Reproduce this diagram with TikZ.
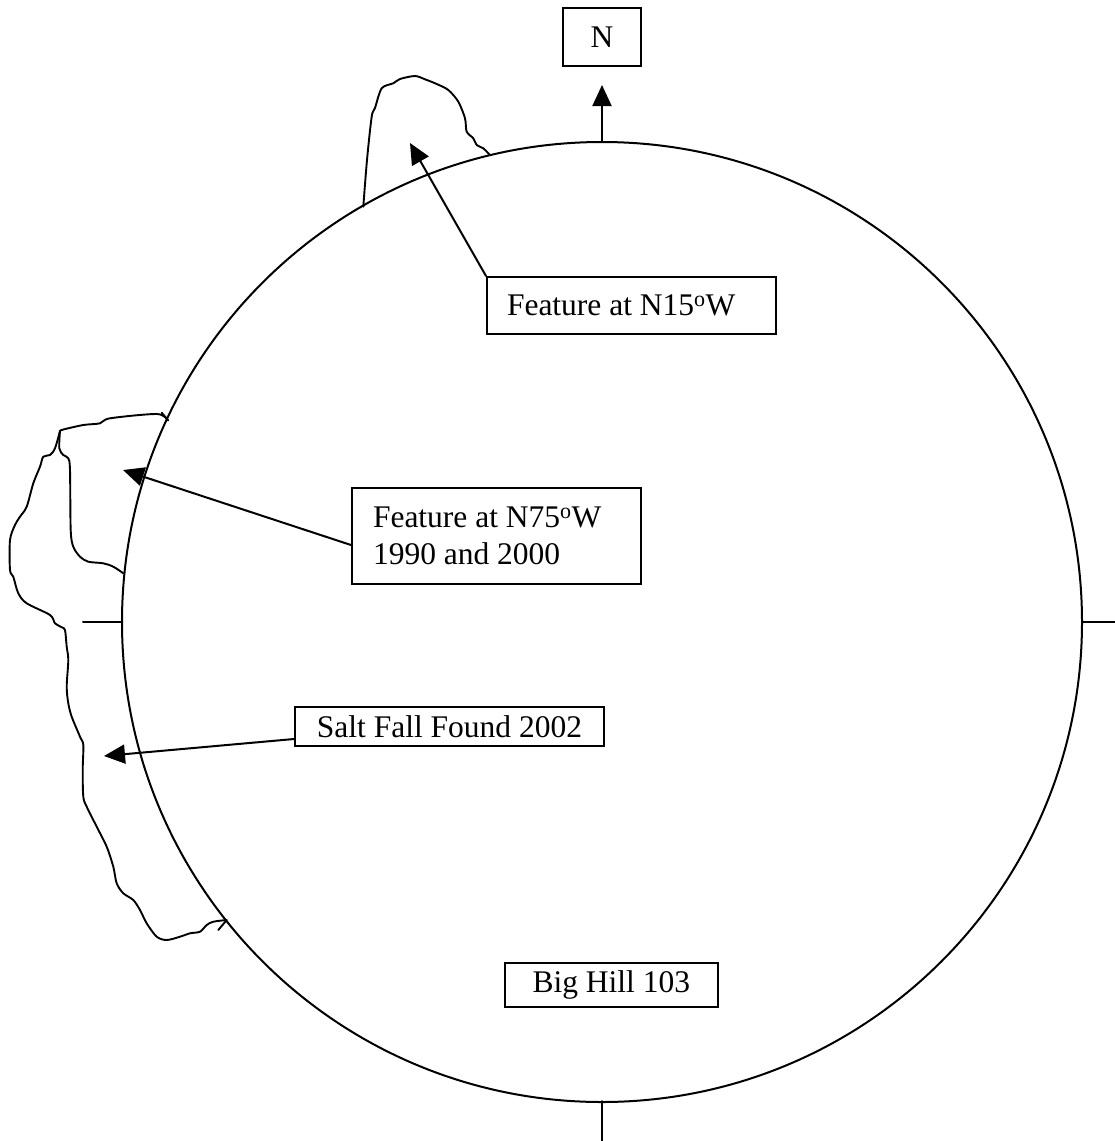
\documentclass[tikz,border=0pt]{standalone}
\usepackage{fontspec}
\setmainfont{Liberation Serif}
\usetikzlibrary{arrows.meta,calc}
\begin{document}
\begin{tikzpicture}[x=1pt,y=-1pt,
  ln/.style={line width=2pt, line join=round, line cap=round},
  box/.style={draw, line width=2pt, font=\fontsize{31.5}{37}\selectfont, inner ysep=0pt},
  arr/.style={ln, -{Triangle[length=21pt,width=19pt]}},
  outline/.style={line width=1.9pt, line join=round, line cap=round}]
\useasboundingbox (0,0) rectangle (1115,1141);
% circle and ticks
\coordinate (c) at (602,622);
\draw[ln] (c) circle[radius=480pt];
\coordinate (lt1) at (83,622);   \coordinate (lt2) at (122,622);
\coordinate (rt1) at (1082,622); \coordinate (rt2) at (1115,622);
\coordinate (bt1) at (602,1101); \coordinate (bt2) at (602,1141);
\coordinate (ctop) at (602,142);
\draw[ln] (lt1) -- (lt2);
\draw[ln] (rt1) -- (rt2);
\draw[ln] (bt1) -- (bt2);
% north
\node[box, minimum width=78pt, minimum height=58pt] (n) at (602,37) {N};
\coordinate (ntip) at (602,85);
\draw[arr] (ctop) -- (ntip);
% top feature outline
\draw[outline] plot[smooth, tension=0.5] coordinates {(363.3,206.7) (367,160) (371.7,116.7) (375,108) (381.7,88.3) (393.3,83.3) (400,79) (415,76) (425,79.3) (436.7,84) (448.3,90) (458.3,101.7) (465,118.3) (466.7,131.7) (473.3,138.3) (476.7,145) (483.3,148.3) (488.3,153.3) (490,155)};
% left feature outline
\draw[outline] plot[smooth, tension=0.5] coordinates {(167.5,420) (156.7,414) (110,418.3) (100,423.3) (83.3,425) (63.3,429.5) (60,431)};
\draw[outline] plot[smooth, tension=0.5] coordinates {(60,431) (55,448.3) (50,455) (43.3,456.7) (40,466.7) (33.3,483.3) (26.7,506.7) (20,516.7) (15,525) (10,540) (10,570) (13.3,576.7) (18.3,593.3) (26.7,603.3) (50,615) (55,623.3) (61.7,627.3) (65,630) (66.7,646.7) (68.3,660) (66.7,686.7) (68.3,703.3) (71.7,716.7) (80,736.7) (83.3,745) (82.7,770) (83.3,796.7) (86.7,806.7) (96.7,826.7) (106.7,846.7) (113.3,866.7) (116.7,883.3) (123.3,893.3) (133.3,900) (140,910) (146.7,923.3) (156.7,936.7) (166.7,940) (180,936.7) (190,933.3) (200,931.7) (206.7,925) (213.3,921.7) (226.7,920)};
\draw[outline] plot[smooth, tension=0.5] coordinates {(60,431) (59.3,448.3) (63.3,455) (68.3,458.3) (70,470) (70.7,530) (73.3,546.7) (80,556.7) (88.3,561.7) (103.3,563.3) (113.3,566.7) (123.3,573.3)};
\draw[outline] (161.7,412.7) -- (168.3,420.5);
\draw[outline] (226.7,920) -- (218.3,930);
% labels
\node[box, inner xsep=20pt, minimum height=57pt] (f15) at (631.5,305.5) {\makebox[249pt][l]{Feature at N15\textsuperscript{o}W}};
\node[box, inner xsep=21pt, minimum height=96pt, align=left] (f75) at (496.5,536) {\makebox[247pt][l]{Feature at N75\textsuperscript{o}W}\\1990 and 2000};
\node[box, minimum width=309pt, minimum height=39pt] (salt) at (449.5,726.5) {Salt Fall Found 2002};
\node[box, minimum width=213pt, minimum height=44pt] (hill) at (611.3,985) {Big Hill 103};
% arrows
\coordinate (tip15) at (410,143);
\coordinate (tip75) at (123,470);
\coordinate (tipsalt) at (104,756);
\draw[arr] (f15.north west) -- (tip15);
\draw[arr] ($(f75.west)+(0,9)$) -- (tip75);
\draw[arr] ($(salt.west)+(0,12.5)$) -- (tipsalt);
\end{tikzpicture}
\end{document}
